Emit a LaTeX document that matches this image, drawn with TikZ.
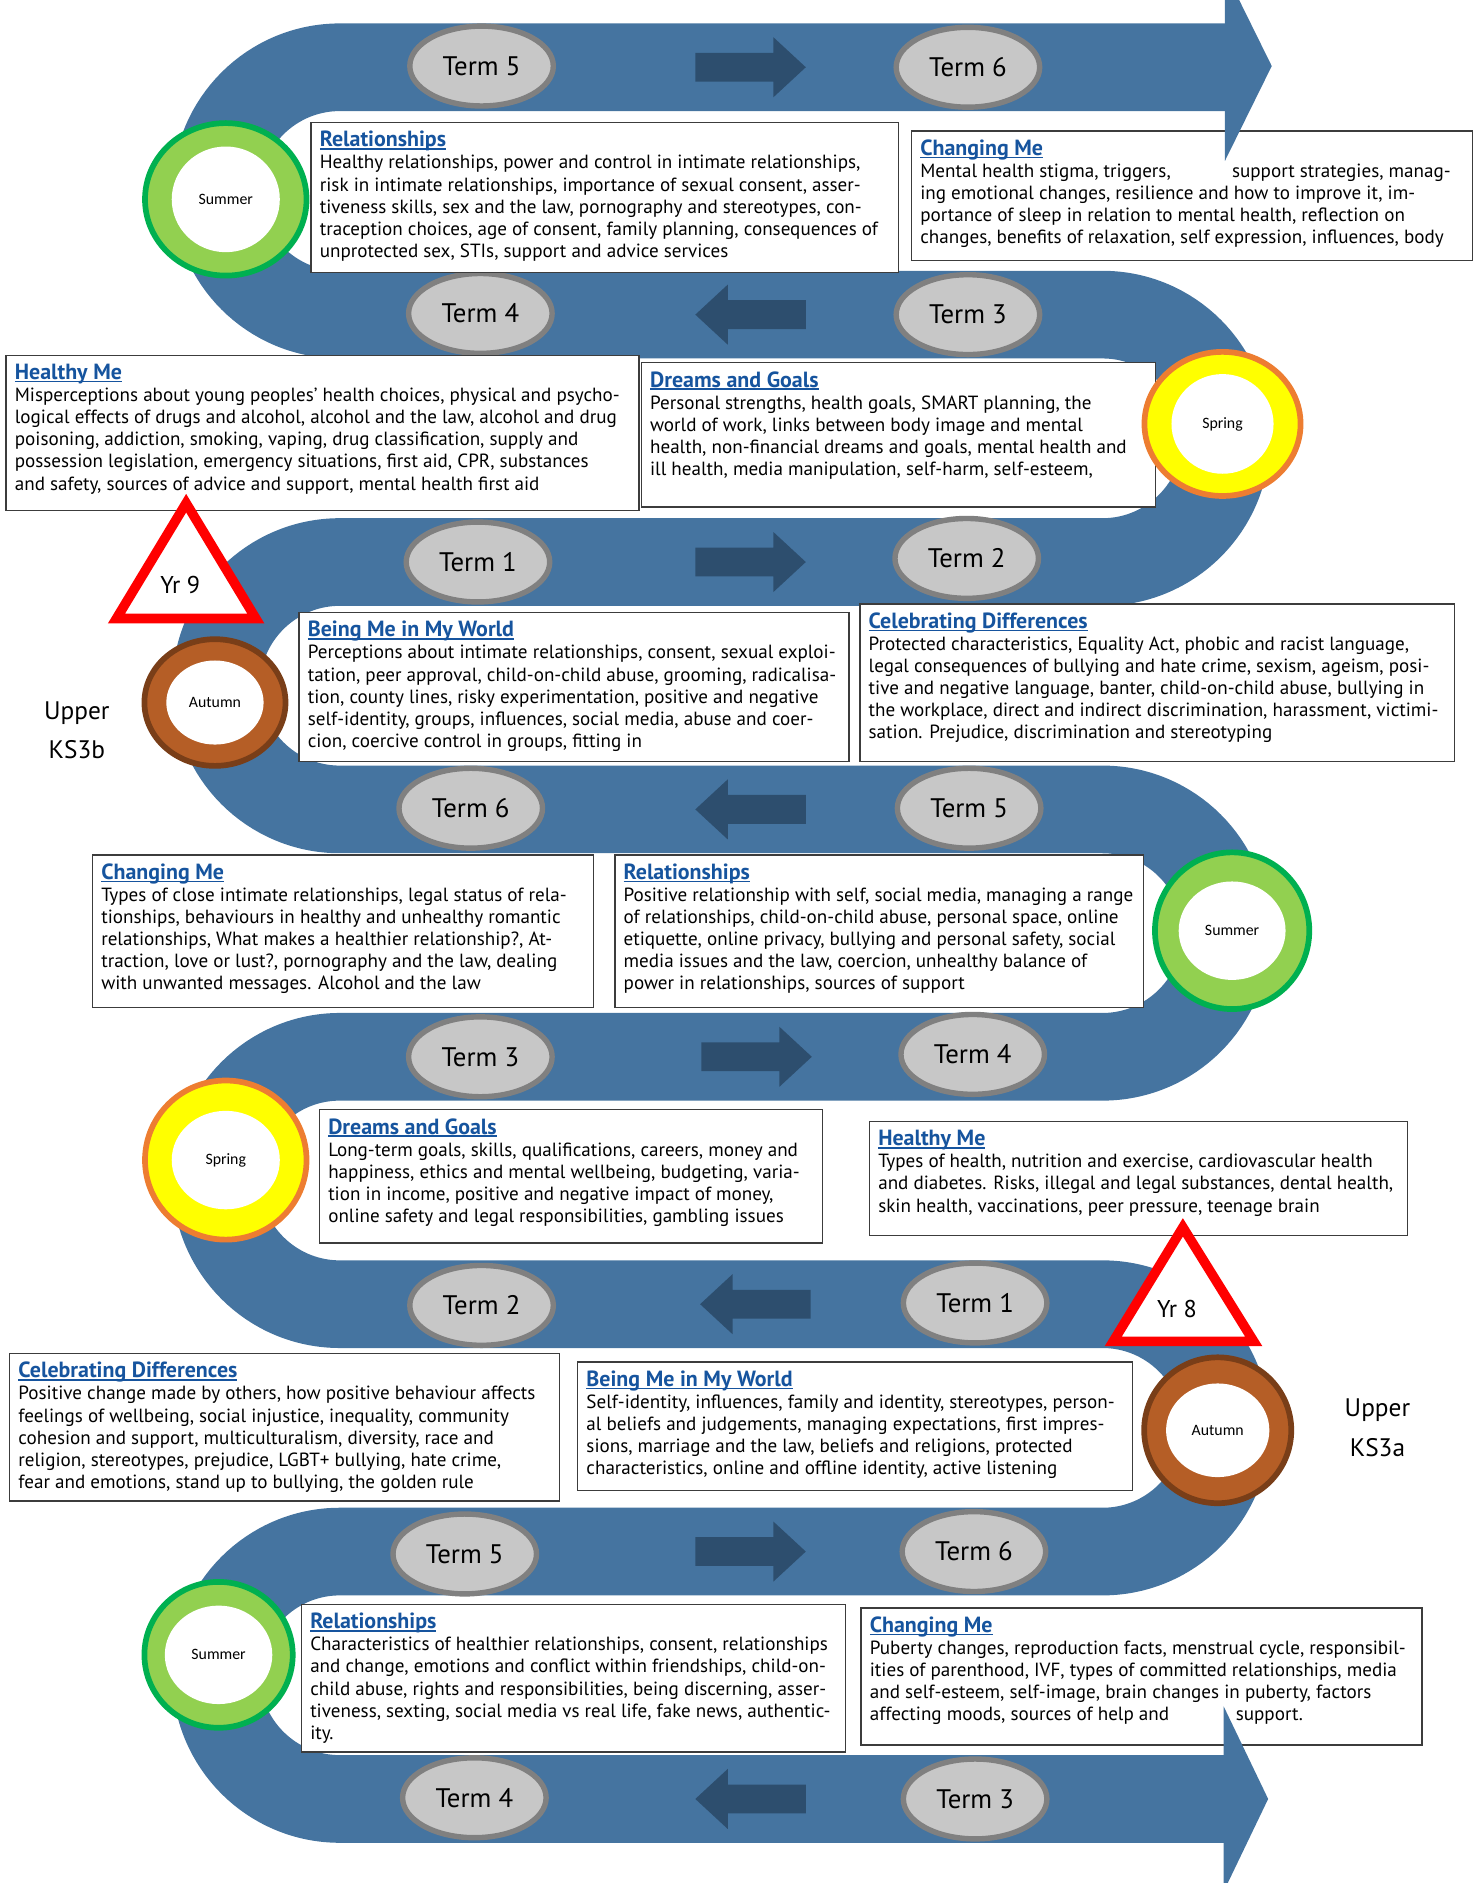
\documentclass[tikz,border=0pt]{standalone}
\usepackage{fontspec}
\setmainfont{PT Sans}
\newfontfamily\seasonfont{Carlito}
\usetikzlibrary{shapes.geometric}

\definecolor{roadblue}{RGB}{69,116,160}
\definecolor{arrowblue}{RGB}{45,78,110}
\definecolor{termgrey}{RGB}{199,199,199}
\definecolor{termline}{RGB}{128,128,128}
\definecolor{headblue}{RGB}{22,84,158}
\definecolor{boxline}{RGB}{60,60,60}
\definecolor{summerfill}{RGB}{146,208,80}
\definecolor{summerline}{RGB}{0,176,80}
\definecolor{springfill}{RGB}{255,255,0}
\definecolor{springline}{RGB}{237,125,49}
\definecolor{autumnfill}{RGB}{181,94,38}
\definecolor{autumnline}{RGB}{121,62,24}

\newcommand{\topichead}[1]{{\color{headblue}\bfseries\fontsize{10.4}{10.46}\selectfont\setbox0\hbox{#1}\rlap{\rule[-1.3pt]{\wd0}{0.7pt}}\box0}}

\tikzset{
  road/.style={draw=roadblue, line width=14.6mm},
  termarrow/.style={fill=arrowblue},
  term/.style={ellipse, fill=termgrey, draw=termline, line width=0.9mm, minimum width=23.9mm, minimum height=13.3mm, inner sep=0pt, font=\fontsize{12.7}{14}\selectfont},
  topicbox/.style={draw=boxline, fill=white, line width=0.24mm},
  topictext/.style={anchor=north west, align=left, inner sep=0pt, font=\fontsize{9.05}{10.46}\selectfont},
  season/.style={ellipse, line width=0.95mm, inner sep=0pt},
  seasonhole/.style={ellipse, fill=white, inner sep=0pt, font=\seasonfont\fontsize{7.5}{9}\selectfont},
  yrtri/.style={draw=red, fill=white, line width=1.6mm},
  yrlabel/.style={font=\fontsize{11.5}{13}\selectfont},
  keystage/.style={align=center, font=\fontsize{12}{18.8}\selectfont}
}

\begin{document}
\begin{tikzpicture}[x=0.2mm, y=-0.2mm]
    \useasboundingbox (0,0) rectangle (1227,1568);
    \clip (0,0) rectangle (1227,1568);

    % Winding road
    \draw[road] (1020,56) -- (283,56) arc[start angle=90, end angle=270, radius=20.6mm]
        -- (918,262) arc[start angle=90, end angle=-90, radius=20.6mm]
        -- (283,468) arc[start angle=90, end angle=270, radius=20.6mm]
        -- (918,674) arc[start angle=90, end angle=-90, radius=20.6mm]
        -- (283,880) arc[start angle=90, end angle=270, radius=20.6mm]
        -- (918,1086) arc[start angle=90, end angle=-90, radius=20.6mm]
        -- (283,1292) arc[start angle=90, end angle=270, radius=20.6mm]
        -- (1020,1498);

    % Direction arrows on the road
    \fill[termarrow] (579,44) -- ++(65,0) -- ++(0,-13) -- ++(27,25) -- ++(-27,25) -- ++(0,-13) -- ++(-65,0) -- cycle;
    \fill[termarrow] (671,250) -- ++(-65,0) -- ++(0,-13) -- ++(-27,25) -- ++(27,25) -- ++(0,-13) -- ++(65,0) -- cycle;
    \fill[termarrow] (579,456) -- ++(65,0) -- ++(0,-13) -- ++(27,25) -- ++(-27,25) -- ++(0,-13) -- ++(-65,0) -- cycle;
    \fill[termarrow] (671,662) -- ++(-65,0) -- ++(0,-13) -- ++(-27,25) -- ++(27,25) -- ++(0,-13) -- ++(65,0) -- cycle;
    \fill[termarrow] (584,868) -- ++(65,0) -- ++(0,-13) -- ++(27,25) -- ++(-27,25) -- ++(0,-13) -- ++(-65,0) -- cycle;
    \fill[termarrow] (675,1074) -- ++(-65,0) -- ++(0,-13) -- ++(-27,25) -- ++(27,25) -- ++(0,-13) -- ++(65,0) -- cycle;
    \fill[termarrow] (579,1280) -- ++(65,0) -- ++(0,-13) -- ++(27,25) -- ++(-27,25) -- ++(0,-13) -- ++(-65,0) -- cycle;
    \fill[termarrow] (671,1486) -- ++(-65,0) -- ++(0,-13) -- ++(-27,25) -- ++(27,25) -- ++(0,-13) -- ++(65,0) -- cycle;

    % Term ovals
    \node[term] (tfiveA) at (401,55) {Term 5};
    \node[term] (tsixA) at (806,56) {Term 6};
    \node[term] (tfourA) at (400,261) {Term 4};
    \node[term] (tthreeA) at (806,262) {Term 3};
    \node[term] (toneA) at (398,468) {Term 1};
    \node[term] (ttwoA) at (805,465) {Term 2};
    \node[term] (tsixB) at (392,673) {Term 6};
    \node[term] (tfiveB) at (807,673) {Term 5};
    \node[term] (tthreeB) at (400,880) {Term 3};
    \node[term] (tfourB) at (810,878) {Term 4};
    \node[term] (ttwoB) at (401,1087) {Term 2};
    \node[term] (toneB) at (812,1085) {Term 1};
    \node[term] (tfiveC) at (387,1294) {Term 5};
    \node[term] (tsixC) at (811,1292) {Term 6};
    \node[term] (tfourC) at (395,1497) {Term 4};
    \node[term] (tthreeC) at (812,1498) {Term 3};

    % Topic boxes, Yr 9
    \draw[topicbox] (259,102) rectangle (748,227);
    \node[topictext] (relTop) at (266,109) {\topichead{Relationships}\\
      Healthy relationships, power and control in intimate relationships,\\
      risk in intimate relationships, importance of sexual consent, asser-\\
      tiveness skills, sex and the law, pornography and stereotypes, con-\\
      traception choices, age of consent, family planning, consequences of\\
      unprotected sex, STIs, support and advice services};

    \draw[topicbox] (759,109) rectangle (1226,217);
    \node[topictext] (changeTop) at (766,116) {\topichead{Changing Me}\\
      Mental health stigma, triggers,\hspace{10.2mm}support strategies, manag-\\
      ing emotional changes, resilience and how to improve it, im-\\
      portance of sleep in relation to mental health, reflection on\\
      changes, benefits of relaxation, self expression, influences, body};

    \draw[topicbox] (5,296) rectangle (532,425);
    \node[topictext] (healthNine) at (12,303) {\topichead{Healthy Me}\\
      Misperceptions about young peoples’ health choices, physical and psycho-\\
      logical effects of drugs and alcohol, alcohol and the law, alcohol and drug\\
      poisoning, addiction, smoking, vaping, drug classification, supply and\\
      possession legislation, emergency situations, first aid, CPR, substances\\
      and safety, sources of advice and support, mental health first aid};

    \draw[topicbox] (534,302) rectangle (962,422);
    \node[topictext] (dreamsNine) at (541,309) {\topichead{Dreams and Goals}\\
      Personal strengths, health goals, SMART planning, the\\
      world of work, links between body image and mental\\
      health, non-financial dreams and goals, mental health and\\
      ill health, media manipulation, self-harm, self-esteem,};

    \draw[topicbox] (249,510) rectangle (707,634);
    \node[topictext] (beingNine) at (256,517) {\topichead{Being Me in My World}\\
      Perceptions about intimate relationships, consent, sexual exploi-\\
      tation, peer approval, child-on-child abuse, grooming, radicalisa-\\
      tion, county lines, risky experimentation, positive and negative\\
      self-identity, groups, influences, social media, abuse and coer-\\
      cion, coercive control in groups, fitting in};

    \draw[topicbox] (716,503) rectangle (1211,634);
    \node[topictext] (celebNine) at (723,510) {\topichead{Celebrating Differences}\\
      Protected characteristics, Equality Act, phobic and racist language,\\
      legal consequences of bullying and hate crime, sexism, ageism, posi-\\
      tive and negative language, banter, child-on-child abuse, bullying in\\
      the workplace, direct and indirect discrimination, harassment, victimi-\\
      sation. Prejudice, discrimination and stereotyping};

    \draw[topicbox] (77,712) rectangle (494,839);
    \node[topictext] (changeMid) at (84,719) {\topichead{Changing Me}\\
      Types of close intimate relationships, legal status of rela-\\
      tionships, behaviours in healthy and unhealthy romantic\\
      relationships, What makes a healthier relationship?, At-\\
      traction, love or lust?, pornography and the law, dealing\\
      with unwanted messages. Alcohol and the law};

    \draw[topicbox] (512,712) rectangle (952,839);
    \node[topictext] (relMid) at (519,719) {\topichead{Relationships}\\
      Positive relationship with self, social media, managing a range\\
      of relationships, child-on-child abuse, personal space, online\\
      etiquette, online privacy, bullying and personal safety, social\\
      media issues and the law, coercion, unhealthy balance of\\
      power in relationships, sources of support};

    % Topic boxes, Yr 8
    \draw[topicbox] (266,924) rectangle (685,1035);
    \node[topictext] (dreamsEight) at (273,931) {\topichead{Dreams and Goals}\\
      Long-term goals, skills, qualifications, careers, money and\\
      happiness, ethics and mental wellbeing, budgeting, varia-\\
      tion in income, positive and negative impact of money,\\
      online safety and legal responsibilities, gambling issues};

    \draw[topicbox] (724,934) rectangle (1172,1029);
    \node[topictext] (healthEight) at (731,941) {\topichead{Healthy Me}\\
      Types of health, nutrition and exercise, cardiovascular health\\
      and diabetes. Risks, illegal and legal substances, dental health,\\
      skin health, vaccinations, peer pressure, teenage brain};

    \draw[topicbox] (8,1127) rectangle (466,1250);
    \node[topictext] (celebEight) at (15,1134) {\topichead{Celebrating Differences}\\
      Positive change made by others, how positive behaviour affects\\
      feelings of wellbeing, social injustice, inequality, community\\
      cohesion and support, multiculturalism, diversity, race and\\
      religion, stereotypes, prejudice, LGBT+ bullying, hate crime,\\
      fear and emotions, stand up to bullying, the golden rule};

    \draw[topicbox] (481,1134) rectangle (943,1241);
    \node[topictext] (beingEight) at (488,1141) {\topichead{Being Me in My World}\\
      Self-identity, influences, family and identity, stereotypes, person-\\
      al beliefs and judgements, managing expectations, first impres-\\
      sions, marriage and the law, beliefs and religions, protected\\
      characteristics, online and offline identity, active listening};

    \draw[topicbox] (251,1336) rectangle (704,1459);
    \node[topictext] (relBottom) at (258,1343) {\topichead{Relationships}\\
      Characteristics of healthier relationships, consent, relationships\\
      and change, emotions and conflict within friendships, child-on-\\
      child abuse, rights and responsibilities, being discerning, asser-\\
      tiveness, sexting, social media vs real life, fake news, authentic-\\
      ity.};

    \draw[topicbox] (717,1339) rectangle (1184,1453);
    \node[topictext] (changeBottom) at (724,1346) {\topichead{Changing Me}\\
      Puberty changes, reproduction facts, menstrual cycle, responsibil-\\
      ities of parenthood, IVF, types of committed relationships, media\\
      and self-esteem, self-image, brain changes in puberty, factors\\
      affecting moods, sources of help and\hspace{11.1mm}support.};

    % Road arrow heads
    \fill[roadblue] (1020,-24) -- (1059,55) -- (1020,134) -- cycle;
    \fill[roadblue] (1019,1421) -- (1056,1498) -- (1019,1575) -- cycle;

    % Season rings
    \node[season, fill=summerfill, draw=summerline, minimum width=26.9mm, minimum height=25.4mm] (summerA) at (188,166) {};
    \node[seasonhole, minimum width=18mm, minimum height=17.6mm] at (summerA) {Summer};
    \node[season, fill=springfill, draw=springline, minimum width=26mm, minimum height=24mm] (springA) at (1018,353) {};
    \node[seasonhole, minimum width=17mm, minimum height=16.6mm] at (springA) {Spring};
    \node[season, fill=autumnfill, draw=autumnline, minimum width=23.5mm, minimum height=21.1mm] (autumnA) at (179,585) {};
    \node[seasonhole, minimum width=16.2mm, minimum height=14mm] at (autumnA) {Autumn};
    \node[season, fill=summerfill, draw=summerline, minimum width=25.7mm, minimum height=26.1mm] (summerB) at (1026,775) {};
    \node[seasonhole, minimum width=17.8mm, minimum height=16.4mm] at (summerB) {Summer};
    \node[season, fill=springfill, draw=springline, minimum width=26.9mm, minimum height=26.5mm] (springB) at (188,966) {};
    \node[seasonhole, minimum width=18mm, minimum height=16.4mm] at (springB) {Spring};
    \node[season, fill=autumnfill, draw=autumnline, minimum width=24.5mm, minimum height=24.3mm] (autumnB) at (1014,1191) {};
    \node[seasonhole, minimum width=17.2mm, minimum height=15.6mm] at (autumnB) {Autumn};
    \node[season, fill=summerfill, draw=summerline, minimum width=24.7mm, minimum height=24.3mm] (summerC) at (182,1378) {};
    \node[seasonhole, minimum width=17.9mm, minimum height=16.4mm] at (summerC) {Summer};

    % Year triangles
    \draw[yrtri] (155,419) -- (213,515) -- (97,515) -- cycle;
    \node[yrlabel] (yrnine) at (150,487) {Yr 9};
    \draw[yrtri] (985,1022) -- (1044,1117) -- (927,1117) -- cycle;
    \node[yrlabel] (yreight) at (980,1090) {Yr 8};

    % Key stage labels
    \node[keystage] (ksb) at (64,608) {Upper\\KS3b};
    \node[keystage] (ksa) at (1147,1189) {Upper\\KS3a};
\end{tikzpicture}
\end{document}
